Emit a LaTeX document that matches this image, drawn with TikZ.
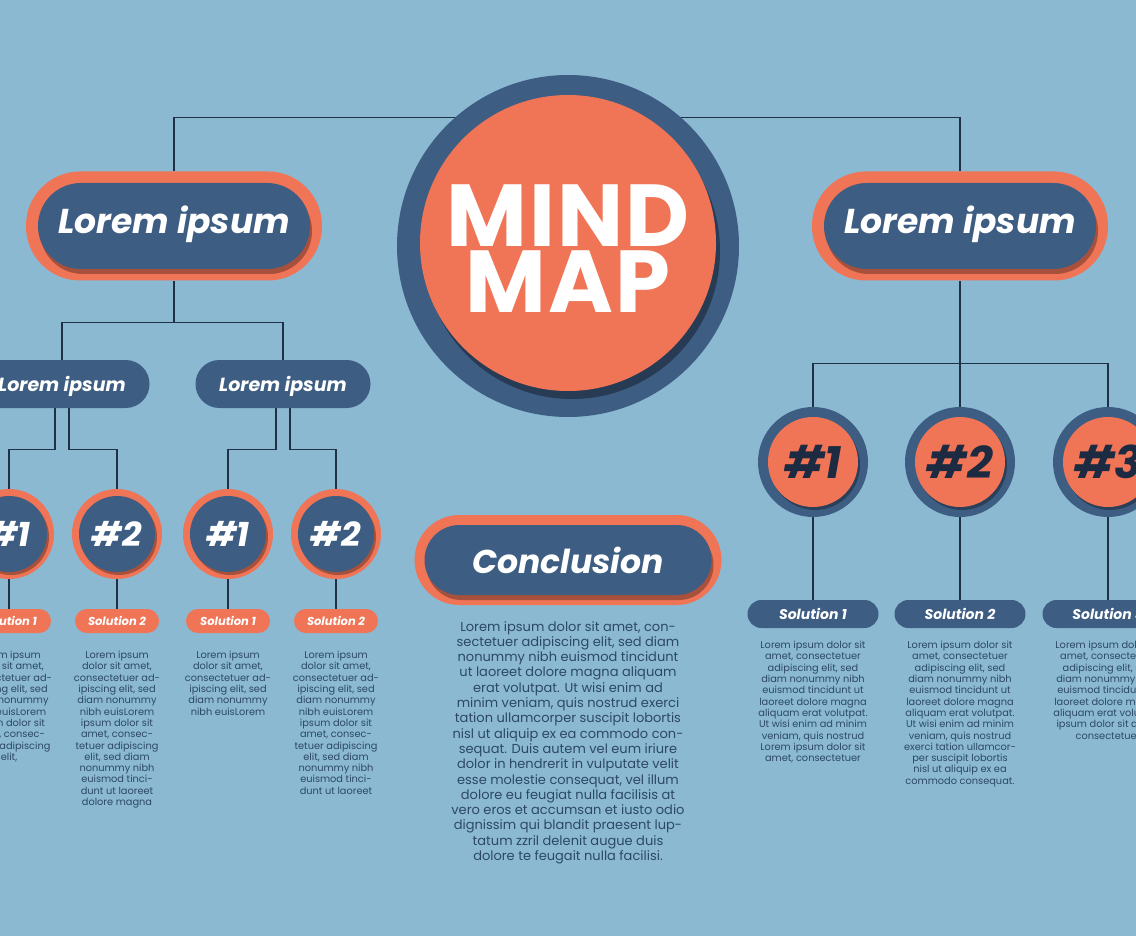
\documentclass[tikz,border=0pt]{standalone}
\usepackage{fontspec}
\setmainfont{Poppins}
\usetikzlibrary{shadows}
\definecolor{bgc}{HTML}{8BB9D2}
\definecolor{navy}{HTML}{3D5D82}
\definecolor{coral}{HTML}{F07456}
\definecolor{linec}{HTML}{1E3147}
\definecolor{bodyc}{HTML}{2C4866}
\definecolor{numdark}{HTML}{1D2B42}
\pgfdeclarelayer{backl}
\pgfdeclarelayer{linel}
\pgfsetlayers{backl,linel,main}
\begin{document}
\begin{tikzpicture}[x=1pt,y=-1pt,
 conn/.style={draw=linec,line width=1.2pt},
 sh/.style={drop shadow={shadow xshift=2pt,shadow yshift=-5pt,opacity=0.3,fill=black}},
 bigout/.style={fill=coral,minimum width=296pt,minimum height=109pt,rounded corners=54pt,inner sep=0pt},
 bigin/.style={fill=navy,minimum width=272pt,minimum height=86pt,rounded corners=42.9pt,inner sep=0pt,text=white,font=\fontsize{34.5}{34.5}\selectfont\bfseries\itshape,text height=24pt,text depth=8pt,sh},
 midpill/.style={fill=navy,minimum width=175pt,minimum height=48pt,rounded corners=23.9pt,inner sep=0pt,text=white,font=\fontsize{19}{19}\selectfont\bfseries\itshape,text depth=0pt},
 lout/.style={circle,fill=coral,minimum size=90pt,inner sep=0pt},
 lin/.style={circle,fill=navy,minimum size=76pt,inner sep=0pt,text=white,font=\fontsize{34}{34}\selectfont\bfseries\itshape,text depth=0pt,drop shadow={shadow xshift=2pt,shadow yshift=-3pt,opacity=0.3,fill=black}},
 rout/.style={circle,fill=navy,minimum size=110pt,inner sep=0pt},
 rin/.style={circle,fill=coral,minimum size=90pt,inner sep=0pt,text=numdark,font=\fontsize{45}{45}\selectfont\bfseries\itshape,text depth=0pt,drop shadow={shadow xshift=2pt,shadow yshift=-3pt,opacity=0.3,fill=black}},
 lsol/.style={fill=coral,minimum width=84pt,minimum height=24pt,rounded corners=11.9pt,inner sep=0pt,text=white,font=\fontsize{11.5}{11.5}\selectfont\bfseries\itshape,text depth=0pt},
 rsol/.style={fill=navy,minimum width=131pt,minimum height=28pt,rounded corners=13.9pt,inner sep=0pt,text=white,font=\fontsize{14}{14}\selectfont\bfseries\itshape,text depth=0pt},
 body/.style={text=bodyc,align=center,inner sep=0pt,anchor=north,font=\fontsize{9.8}{11.3}\selectfont},
 cbody/.style={text=bodyc,align=center,inner sep=0pt,anchor=north,font=\fontsize{13}{15.3}\selectfont}
]
\path[use as bounding box] (0,0) rectangle (1136,936);
\clip (0,0) rectangle (1136,936);
\begin{pgfonlayer}{backl}
\fill[bgc] (0,0) rectangle (1136,936);
\end{pgfonlayer}

% hub
\node[circle,fill=navy,minimum size=342pt,inner sep=0pt] (hub) at (568,246) {};
\node[circle,fill=coral,minimum size=296pt,inner sep=0pt,drop shadow={shadow xshift=4pt,shadow yshift=-8pt,opacity=0.35,fill=black}] (hubin) at (568,243) {};
\node[text=white,align=center,font=\fontsize{88}{66}\selectfont\bfseries\addfontfeature{LetterSpace=2},inner sep=0pt] (title) at (568,249) {MIND\\MAP};

% left branch
\node[bigout] (L) at (174,226) {};
\node[bigin] (Lt) at (174,226) {Lorem ipsum};
\node[midpill] (La) at (62,384) {Lorem ipsum};
\node[midpill] (Lb) at (283,384) {Lorem ipsum};
\foreach \i/\x/\n in {1/9/1,2/117/2,3/228/1,4/336/2}{
  \node[lout] (c\i) at (\x,534) {};
  \node[lin] (c\i i) at (\x,534) {\#\n};
  \node[lsol] (s\i) at (\x,621) {Solution \n};
}
\node[body] (b1) at (9,651) {Lorem ipsum\\dolor sit amet,\\consectetuer ad-\\ipiscing elit, sed\\diam nonummy\\nibh euisLorem\\ipsum dolor sit\\amet, consec-\\tetuer adipiscing\\elit,};
\node[body] (b2) at (117,651) {Lorem ipsum\\dolor sit amet,\\consectetuer ad-\\ipiscing elit, sed\\diam nonummy\\nibh euisLorem\\ipsum dolor sit\\amet, consec-\\tetuer adipiscing\\elit, sed diam\\nonummy nibh\\euismod tinci-\\dunt ut laoreet\\dolore magna};
\node[body] (b3) at (228,651) {Lorem ipsum\\dolor sit amet,\\consectetuer ad-\\ipiscing elit, sed\\diam nonummy\\nibh euisLorem};
\node[body] (b4) at (336,651) {Lorem ipsum\\dolor sit amet,\\consectetuer ad-\\ipiscing elit, sed\\diam nonummy\\nibh euisLorem\\ipsum dolor sit\\amet, consec-\\tetuer adipiscing\\elit, sed diam\\nonummy nibh\\euismod tinci-\\dunt ut laoreet};

% right branch
\node[bigout] (R) at (960,226) {};
\node[bigin] (Rt) at (960,226) {Lorem ipsum};
\foreach \i/\x in {1/813,2/960,3/1108}{
  \node[rout] (r\i) at (\x,462) {};
  \node[rin] (r\i i) at (\x,462) {\#\i};
  \node[rsol] (t\i) at (\x,614) {Solution \i};
}
\node[body] (rb1) at (813,641) {Lorem ipsum dolor sit\\amet, consectetuer\\adipiscing elit, sed\\diam nonummy nibh\\euismod tincidunt ut\\laoreet dolore magna\\aliquam erat volutpat.\\Ut wisi enim ad minim\\veniam, quis nostrud\\Lorem ipsum dolor sit\\amet, consectetuer};
\node[body] (rb2) at (960,641) {Lorem ipsum dolor sit\\amet, consectetuer\\adipiscing elit, sed\\diam nonummy nibh\\euismod tincidunt ut\\laoreet dolore magna\\aliquam erat volutpat.\\Ut wisi enim ad minim\\veniam, quis nostrud\\exerci tation ullamcor-\\per suscipit lobortis\\nisl ut aliquip ex ea\\commodo consequat.};
\node[body] (rb3) at (1108,641) {Lorem ipsum dolor sit\\amet, consectetuer\\adipiscing elit, sed\\diam nonummy nibh\\euismod tincidunt ut\\laoreet dolore magna\\aliquam erat volutpat.\\ipsum dolor sit amet,\\consectetuer};

% conclusion
\node[fill=coral,minimum width=307pt,minimum height=90pt,rounded corners=44.9pt,inner sep=0pt] (C) at (568,560) {};
\node[fill=navy,minimum width=287pt,minimum height=70pt,rounded corners=34.9pt,inner sep=0pt,sh,text=white,font=\fontsize{33}{33}\selectfont\bfseries\itshape,text depth=0pt] (Ct) at (568,560) {Conclusion};
\node[cbody] (ctext) at (568,621) {Lorem ipsum dolor sit amet, con-\\sectetuer adipiscing elit, sed diam\\nonummy nibh euismod tincidunt\\ut laoreet dolore magna aliquam\\erat volutpat. Ut wisi enim ad\\minim veniam, quis nostrud exerci\\tation ullamcorper suscipit lobortis\\nisl ut aliquip ex ea commodo con-\\sequat. Duis autem vel eum iriure\\dolor in hendrerit in vulputate velit\\esse molestie consequat, vel illum\\dolore eu feugiat nulla facilisis at\\vero eros et accumsan et iusto odio\\dignissim qui blandit praesent lup-\\tatum zzril delenit augue duis\\dolore te feugait nulla facilisi.};

\begin{pgfonlayer}{linel}
\draw[conn] (L.north) -- ++(0,-54) -| (R.north);
\draw[conn] (L.south) -- ++(0,42) coordinate (Lj);
\draw[conn] (La.north) |- (Lj) -| (Lb.north);
\draw[conn] ([xshift=-7pt]La.south) -- ++(0,41) -| (c1.north);
\draw[conn] ([xshift=7pt]La.south) -- ++(0,41) -| (c2.north);
\draw[conn] ([xshift=-7pt]Lb.south) -- ++(0,41) -| (c3.north);
\draw[conn] ([xshift=7pt]Lb.south) -- ++(0,41) -| (c4.north);
\foreach \i in {1,2,3,4}{\draw[conn] (c\i.south) -- (s\i.north);}
\draw[conn] (R.south) -- (r2.north);
\draw[conn] (r1.north) -- ++(0,-43) -| (r3.north);
\foreach \i in {1,2,3}{\draw[conn] (r\i.south) -- (t\i.north);}
\end{pgfonlayer}
\end{tikzpicture}
\end{document}
